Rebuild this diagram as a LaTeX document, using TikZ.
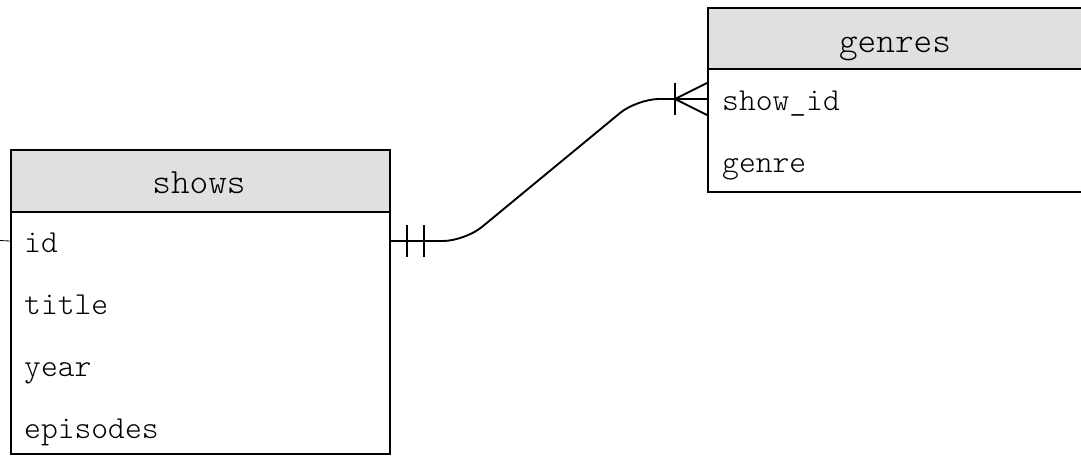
\documentclass[tikz,border=0pt]{standalone}
\usepackage{fontspec}
\setmonofont{Latin Modern Mono Light}
\usetikzlibrary{calc}
\definecolor{hdr}{HTML}{E0E0E0}
\tikzset{
  ln/.style={line width=1.9pt, black},
  hdrbox/.style={draw, ln, fill=hdr, rectangle, inner sep=0pt, anchor=north west},
  bodybox/.style={draw, ln, fill=white, rectangle, inner sep=0pt, anchor=north west},
  hdrtxt/.style={font=\ttfamily\fontsize{35.5}{35.5}\selectfont, anchor=base, inner sep=0pt},
  fieldtxt/.style={font=\ttfamily\fontsize{32}{32}\selectfont, anchor=base west, inner sep=0pt},
}
\begin{document}
\begin{tikzpicture}[x=1pt,y=-1pt]
\useasboundingbox (0,0) rectangle (1081,456);
% shows table
\node[bodybox, minimum width=379pt, minimum height=242pt] (showsbody) at (10,211) {};
\node[hdrbox, minimum width=379pt, minimum height=62pt] (showshdr) at (10,149) {};
\node[hdrtxt] (tshows) at (199,193) {shows};
\node[fieldtxt] (fid) at (24,252) {id};
\node[fieldtxt] (ftitle) at (24,314) {title};
\node[fieldtxt] (fyear) at (24,376) {year};
\node[fieldtxt] (fepisodes) at (24,438) {episodes};
% genres table
\node[bodybox, minimum width=376pt, minimum height=123pt] (genresbody) at (707,68) {};
\node[hdrbox, minimum width=376pt, minimum height=61pt] (genreshdr) at (707,7) {};
\node[hdrtxt] (tgenres) at (895,52) {genres};
\node[fieldtxt] (fshowid) at (722,110) {show\_id};
\node[fieldtxt] (fgenre) at (722,172) {genre};
% connector
\coordinate (sA) at ($(showsbody.north east)+(0,30)$);
\coordinate (gB) at ($(genresbody.north west)+(0,31)$);
\draw[ln, rounded corners=22pt] (sA) -- ($(sA)+(74,0)$) -- ($(gB)+(-70,0)$) -- (gB);
% one-and-only-one marks
\draw[ln] ($(sA)+(16,-16)$) -- ($(sA)+(16,16)$);
\draw[ln] ($(sA)+(33,-16)$) -- ($(sA)+(33,16)$);
% one-or-many crow's foot
\draw[ln] ($(gB)+(-32,-16)$) -- ($(gB)+(-32,16)$);
\draw[ln] ($(gB)+(-32,0)$) -- ($(gB)+(0,-16)$);
\draw[ln] ($(gB)+(-32,0)$) -- ($(gB)+(0,16)$);
% stub on the left of shows
\coordinate (offl) at (-10,240);
\draw[line width=0.8pt] (offl) -- (showsbody.west |- sA);
\end{tikzpicture}
\end{document}
